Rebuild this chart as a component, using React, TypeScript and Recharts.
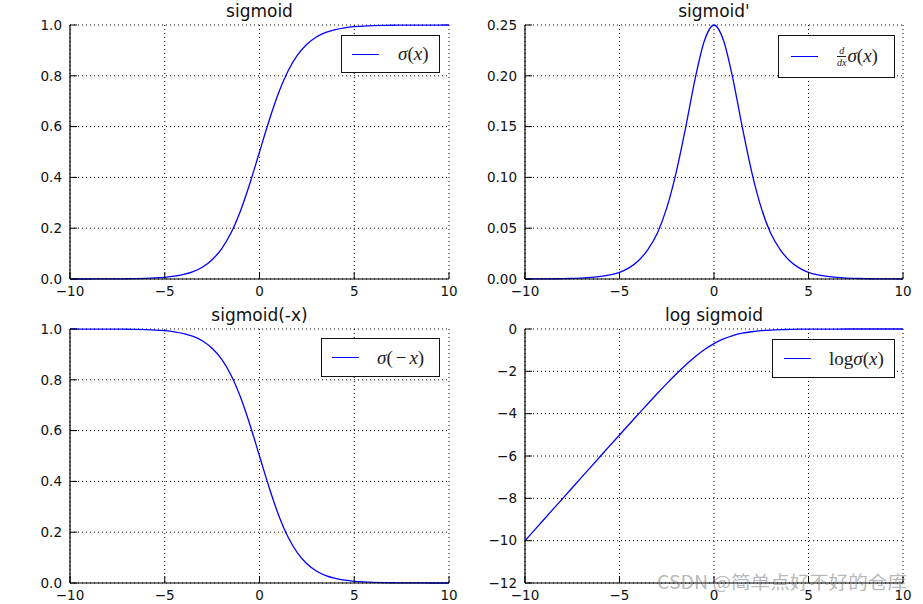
import React from "react";
import { LineChart, Line, XAxis, YAxis, CartesianGrid, Legend } from "recharts";

// x samples, every 0.5
const xValues = [
  -10, -9.5, -9, -8.5, -8, -7.5, -7, -6.5, -6, -5.5, -5, -4.5, -4, -3.5, -3, -2.5, -2, -1.5, -1, -0.5,
  0, 0.5, 1, 1.5, 2, 2.5, 3, 3.5, 4, 4.5, 5, 5.5, 6, 6.5, 7, 7.5, 8, 8.5, 9, 9.5, 10,
];

const sigmoidValues = [
  0.0, 0.0001, 0.0001, 0.0002, 0.0003, 0.0006, 0.0009, 0.0015, 0.0025, 0.0041, 0.0067, 0.011, 0.018, 0.029, 0.047, 0.076, 0.119, 0.182, 0.269, 0.378,
  0.5, 0.622, 0.731, 0.818, 0.881, 0.924, 0.953, 0.971, 0.982, 0.989, 0.9933, 0.9959, 0.9975, 0.9985, 0.9991, 0.9994, 0.9997, 0.9998, 0.9999, 0.9999, 1.0,
];

const sigmoidDerivValues = [
  0.0, 0.0001, 0.0001, 0.0002, 0.0003, 0.0006, 0.0009, 0.0015, 0.0025, 0.0041, 0.0066, 0.011, 0.018, 0.029, 0.045, 0.07, 0.105, 0.149, 0.197, 0.235,
  0.25, 0.235, 0.197, 0.149, 0.105, 0.07, 0.045, 0.029, 0.018, 0.011, 0.0066, 0.0041, 0.0025, 0.0015, 0.0009, 0.0006, 0.0003, 0.0002, 0.0001, 0.0001, 0.0,
];

const sigmoidNegValues = [
  1.0, 0.9999, 0.9999, 0.9998, 0.9997, 0.9994, 0.9991, 0.9985, 0.9975, 0.9959, 0.9933, 0.989, 0.982, 0.971, 0.953, 0.924, 0.881, 0.818, 0.731, 0.622,
  0.5, 0.378, 0.269, 0.182, 0.119, 0.076, 0.047, 0.029, 0.018, 0.011, 0.0067, 0.0041, 0.0025, 0.0015, 0.0009, 0.0006, 0.0003, 0.0002, 0.0001, 0.0001, 0.0,
];

const logSigmoidValues = [
  -10.0, -9.5, -9.0, -8.5, -8.0, -7.5, -7.0, -6.5, -6.0, -5.5, -5.01, -4.51, -4.02, -3.53, -3.05, -2.58, -2.13, -1.7, -1.31, -0.97,
  -0.69, -0.47, -0.31, -0.2, -0.13, -0.08, -0.05, -0.03, -0.02, -0.01, -0.007, -0.004, -0.002, -0.0015, -0.001, -0.0006, -0.0003, -0.0002, -0.0001, -0.0001, 0.0,
];

const xTicks = [-10, -5, 0, 5, 10];
const sigmoidTicks = [0, 0.2, 0.4, 0.6, 0.8, 1];
const derivTicks = [0, 0.05, 0.1, 0.15, 0.2, 0.25];
const logTicks = [-12, -10, -8, -6, -4, -2, 0];

const titles = ["sigmoid", "sigmoid'", "sigmoid(-x)", "log sigmoid"];

const toRows = (ys: number[]) => xValues.map((x, i) => ({ x, y: ys[i] }));

const minus = (s: string) => s.replace("-", "\u2212");

const TICK_FONT = { fontFamily: "DejaVu Sans", fontSize: 13.5, fill: "#111" };
const TICK_LEN = -7; // negative -> ticks point into the plot, like matplotlib classic

const I = ({ children }: { children: React.ReactNode }) => <span style={{ fontStyle: "italic" }}>{children}</span>;

const Frac = () => (
  <span
    style={{
      display: "inline-flex",
      flexDirection: "column",
      alignItems: "center",
      fontSize: 10,
      fontStyle: "italic",
      lineHeight: "10px",
      verticalAlign: "middle",
      marginRight: 1,
    }}
  >
    <span>d</span>
    <span style={{ borderTop: "1px solid #222", paddingTop: 1 }}>dx</span>
  </span>
);

interface LegendBox {
  left: number;
  top: number;
  width: number;
  height: number;
  padLeft: number;
  gap: number;
  label: React.ReactNode;
}

interface PanelProps {
  left: number;
  top: number;
  width: number;
  height: number;
  marginTop: number;
  marginRight: number;
  yAxisWidth: number;
  ys: number[];
  yDomain: [number, number];
  yTicks: number[];
  yDigits: number;
  legend: LegendBox;
}

const Panel: React.FC<PanelProps> = (p) => {
  const data = toRows(p.ys);
  const lg = p.legend;
  return (
    <div style={{ position: "absolute", left: p.left, top: p.top }}>
      <LineChart
        width={p.width}
        height={p.height}
        data={data}
        margin={{ top: p.marginTop, right: p.marginRight, bottom: 0, left: 0 }}
      >
        <CartesianGrid stroke="#000" strokeDasharray="1 3" strokeWidth={1} />
        <XAxis
          dataKey="x"
          type="number"
          domain={[-10, 10]}
          ticks={xTicks}
          interval={0}
          height={21}
          tickSize={TICK_LEN}
          tickMargin={14}
          tick={TICK_FONT}
          tickFormatter={(v: number) => minus(v.toFixed(0))}
          stroke="#000"
          axisLine={{ stroke: "#000", strokeWidth: 1.2 }}
        />
        <XAxis
          xAxisId="top"
          orientation="top"
          dataKey="x"
          type="number"
          domain={[-10, 10]}
          ticks={xTicks}
          interval={0}
          height={0}
          tickSize={TICK_LEN}
          tick={false}
          stroke="#000"
          axisLine={{ stroke: "#000", strokeWidth: 1.2 }}
        />
        <YAxis
          type="number"
          domain={p.yDomain}
          ticks={p.yTicks}
          interval={0}
          width={p.yAxisWidth}
          tickSize={TICK_LEN}
          tickMargin={15}
          tick={TICK_FONT}
          tickFormatter={(v: number) => minus(v.toFixed(p.yDigits))}
          stroke="#000"
          axisLine={{ stroke: "#000", strokeWidth: 1.2 }}
        />
        <YAxis
          yAxisId="right"
          orientation="right"
          type="number"
          domain={p.yDomain}
          ticks={p.yTicks}
          interval={0}
          width={0}
          tickSize={TICK_LEN}
          tick={false}
          stroke="#000"
          axisLine={{ stroke: "#000", strokeWidth: 1.2 }}
        />
        <Legend
          layout="horizontal"
          align="center"
          verticalAlign="middle"
          wrapperStyle={{ left: lg.left, top: lg.top, width: lg.width, height: lg.height, margin: 0 }}
          content={() => (
            <div
              style={{
                boxSizing: "border-box",
                width: lg.width,
                height: lg.height,
                border: "1.5px solid #111",
                background: "#fff",
                display: "flex",
                alignItems: "center",
                paddingLeft: lg.padLeft,
              }}
            >
              <div style={{ width: 27, borderTop: "1.5px solid #0000ff", marginRight: lg.gap }} />
              <div style={{ fontFamily: "Liberation Serif", fontSize: 19, color: "#222", whiteSpace: "nowrap" }}>
                {lg.label}
              </div>
            </div>
          )}
        />
        <Line
          type="monotone"
          dataKey="y"
          stroke="#0000ff"
          strokeWidth={1.3}
          dot={false}
          activeDot={false}
          isAnimationActive={false}
        />
      </LineChart>
    </div>
  );
};

export default function App() {
  return (
    <div style={{ position: "absolute", left: 0, top: 0, width: 923, height: 604, background: "#fff" }}>
      <Panel
        left={0}
        top={0}
        width={460}
        height={300}
        marginTop={25}
        marginRight={11}
        yAxisWidth={70}
        ys={sigmoidValues}
        yDomain={[0, 1]}
        yTicks={sigmoidTicks}
        yDigits={1}
        legend={{
          left: 341, top: 35, width: 99, height: 38, padLeft: 10, gap: 19,
          label: (<><I>σ</I>(<I>x</I>)</>),
        }}
      />
      <Panel
        left={460}
        top={0}
        width={463}
        height={300}
        marginTop={25}
        marginRight={20}
        yAxisWidth={65}
        ys={sigmoidDerivValues}
        yDomain={[0, 0.25]}
        yTicks={derivTicks}
        yDigits={2}
        legend={{
          left: 318, top: 35, width: 117, height: 43, padLeft: 12, gap: 19,
          label: (<><Frac /><I>σ</I>(<I>x</I>)</>),
        }}
      />
      <Panel
        left={0}
        top={300}
        width={460}
        height={304}
        marginTop={29}
        marginRight={11}
        yAxisWidth={70}
        ys={sigmoidNegValues}
        yDomain={[0, 1]}
        yTicks={sigmoidTicks}
        yDigits={1}
        legend={{
          left: 321, top: 38, width: 119, height: 39, padLeft: 10, gap: 18,
          label: (<><I>σ</I>(<span style={{ margin: "0 3px" }}>−</span><I>x</I>)</>),
        }}
      />
      <Panel
        left={460}
        top={300}
        width={463}
        height={304}
        marginTop={29}
        marginRight={20}
        yAxisWidth={65}
        ys={logSigmoidValues}
        yDomain={[-12, 0]}
        yTicks={logTicks}
        yDigits={0}
        legend={{
          left: 312, top: 39, width: 123, height: 39, padLeft: 11, gap: 18,
          label: (<>log<I>σ</I>(<I>x</I>)</>),
        }}
      />
      <svg
        width={923}
        height={604}
        style={{ position: "absolute", left: 0, top: 0, pointerEvents: "none" }}
      >
        <g fontFamily="DejaVu Sans" fontSize={17} fill="#111" textAnchor="middle">
          <text x={259.5} y={17}>{titles[0]}</text>
          <text x={714} y={17}>{titles[1]}</text>
          <text x={259.5} y={321}>{titles[2]}</text>
          <text x={714} y={321}>{titles[3]}</text>
        </g>
        <text
          x={657}
          y={589}
          fontFamily="Noto Sans CJK SC"
          fontSize={18}
          textLength={250}
          lengthAdjust="spacingAndGlyphs"
          fill="#7a7a7a"
          fillOpacity={0.55}
        >
          CSDN @简单点好不好的仓库
        </text>
      </svg>
    </div>
  );
}
